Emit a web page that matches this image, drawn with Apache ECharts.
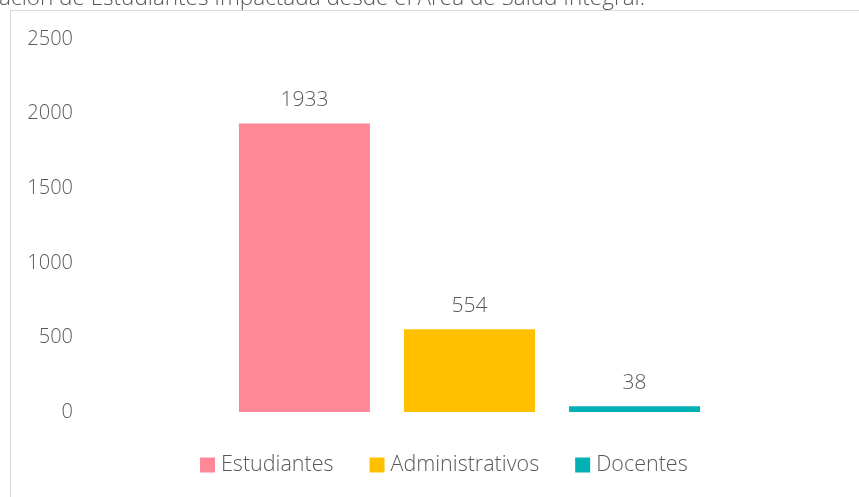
<!DOCTYPE html>
<html>
<head>
<meta charset="utf-8">
<script src="https://cdn.jsdelivr.net/npm/echarts@6/dist/echarts.min.js"></script>
<style>
html,body{margin:0;padding:0;background:#fff;}
#c{width:859px;height:497px;}
</style>
</head>
<body>
<div id="c"></div>
<script>
const titleText = "Población de Estudiantes Impactada desde el Área de Salud Integral.";
const categories = ["Total"];
const seriesNames = ["Estudiantes", "Administrativos", "Docentes"];
const seriesValues = [1933, 554, 38];
const seriesColors = ["#FF8896", "#FFC000", "#00B0B5"];
const yTicks = { min: 0, max: 2500, interval: 500 };

const FONT = "'Open Sans','Noto Sans',sans-serif";
const chart = echarts.init(document.getElementById('c'), null, { renderer: 'canvas' });

const series = seriesNames.map((name, i) => ({
  name: name,
  type: 'bar',
  data: [seriesValues[i]],
  barWidth: 131,
  barGap: '26%',
  itemStyle: { color: seriesColors[i] },
  label: {
    show: true,
    position: 'top',
    distance: 13,
    color: '#595959',
    fontFamily: FONT,
    fontWeight: 300,
    fontSize: 21
  }
}));

chart.setOption({
  animation: false,
  backgroundColor: '#fff',
  graphic: [
    {
      type: 'rect',
      shape: { x: 10.5, y: 10.5, width: 870, height: 500 },
      style: { fill: 'none', stroke: '#d9d9d9', lineWidth: 1 },
      silent: true
    },
    {
      type: 'text',
      x: 645,
      y: 10,
      style: {
        text: titleText,
        align: 'right',
        verticalAlign: 'bottom',
        fill: '#595959',
        font: '300 22.5px ' + FONT
      },
      silent: true
    }
  ],
  grid: { left: 80, right: 0, top: 39, bottom: 85, containLabel: false },
  legend: {
    top: 449,
    left: 195,
    itemWidth: 15,
    itemHeight: 15,
    itemGap: 36,
    icon: 'rect',
    textStyle: { color: '#595959', fontFamily: FONT, fontWeight: 300, fontSize: 21.5, padding: [0, 0, 0, 1] },
    data: seriesNames
  },
  xAxis: {
    type: 'category',
    data: categories,
    axisLine: { show: false },
    axisTick: { show: false },
    axisLabel: { show: false },
    splitLine: { show: false }
  },
  yAxis: {
    type: 'value',
    min: yTicks.min,
    max: yTicks.max,
    interval: yTicks.interval,
    axisLine: { show: false },
    axisTick: { show: false },
    splitLine: { show: false },
    axisLabel: {
      margin: 7,
      color: '#595959',
      fontFamily: FONT,
      fontWeight: 300,
      fontSize: 20,
      formatter: function (v) { return String(v); }
    }
  },
  series: series
});
</script>
</body>
</html>
